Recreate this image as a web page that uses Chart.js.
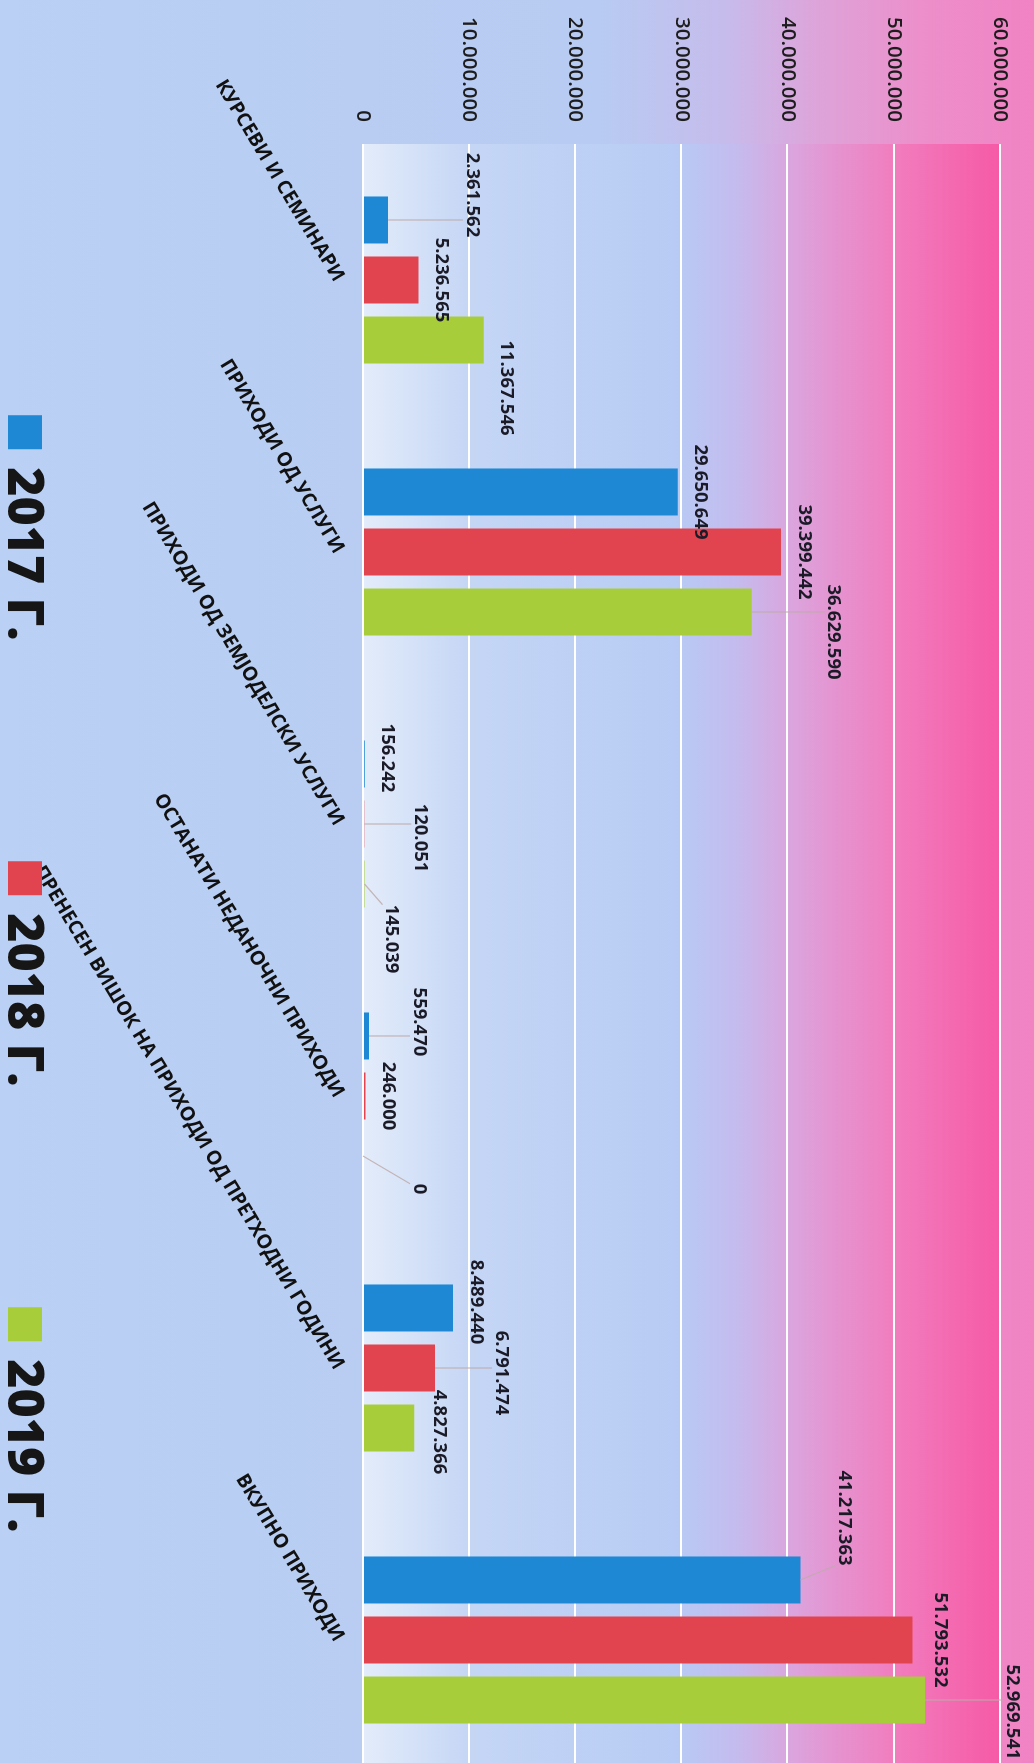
<!DOCTYPE html>
<html>
<head>
<meta charset="utf-8">
<title>Приходи 2017-2019</title>
<script src="https://cdn.jsdelivr.net/npm/chart.js@4.4.1/dist/chart.umd.min.js"></script>
<style>
  html, body { margin: 0; padding: 0; width: 1034px; height: 1763px; overflow: hidden; background: #bcd1f4; }
  /* the chart is drawn as a normal column chart and turned a quarter turn clockwise */
  #wrap { position: absolute; left: 0; top: 0; width: 1776px; height: 1034px;
          transform-origin: 0 0; transform: translateX(1034px) rotate(90deg); }
  canvas { display: block; }
</style>
</head>
<body>
<div id="wrap"><canvas id="chart" width="1776" height="1034"></canvas></div>
<script>
// categories
const categories = [
  'КУРСЕВИ И СЕМИНАРИ',
  'ПРИХОДИ ОД УСЛУГИ',
  'ПРИХОДИ ОД ЗЕМЈОДЕЛСКИ УСЛУГИ',
  'ОСТАНАТИ НЕДАНОЧНИ ПРИХОДИ',
  'ПРЕНЕСЕН ВИШОК НА ПРИХОДИ ОД ПРЕТХОДНИ ГОДИНИ',
  'ВКУПНО ПРИХОДИ'
];
const seriesLabels = ['2017 Г.', '2018 Г.', '2019 Г.'];

// values per year
const values2017 = [2361562, 29650649, 156242, 559470, 8489440, 41217363];
const values2018 = [5236565, 39399442, 120051, 246000, 6791474, 51793532];
const values2019 = [11367546, 36629590, 145039, 0, 4827366, 52969541];

// value axis
const axisMin = 0;
const axisMax = 60000000;
const axisStep = 10000000;

// hand-moved data labels (nudge in px from the default spot, like the excel callouts)
const nudge2017 = [[-25, -61], [0, 0], [-6, 0], [-14, -27], [-6, 0], [-62, -21]];
const nudge2018 = [[0, 0], [0, 0], [14, -33], [0, 0], [5, -43], [0, -5]];
const nudge2019 = [[48, 0], [20, -59], [55, -4], [33, -33], [4, -2], [12, -64]];

const colors = ['#1e88d4', '#e1444f', '#a8cd3b'];

// 1234567 -> 1.234.567
const fmt = v => String(v).replace(/\B(?=(\d{3})+(?!\d))/g, '.');

// background: blue on the left of the picture, pink on the right
const backgroundPlugin = {
  id: 'gradientBackground',
  beforeDraw(chart) {
    const ctx = chart.ctx;
    const ca = chart.chartArea;
    const h = chart.height;
    ctx.save();
    let g = ctx.createLinearGradient(0, h, 0, 0);
    g.addColorStop(0, '#bad0f4');
    g.addColorStop(0.58, '#b8cbf2');
    g.addColorStop(0.70, '#c6bcec');
    g.addColorStop(0.79, '#dda4da');
    g.addColorStop(0.89, '#ec8fca');
    g.addColorStop(1, '#f183c3');
    ctx.fillStyle = g;
    ctx.fillRect(0, 0, chart.width, h);

    g = ctx.createLinearGradient(0, ca.bottom, 0, ca.top);
    g.addColorStop(0, '#e3ecfa');
    g.addColorStop(0.166, '#c5d6f5');
    g.addColorStop(0.49, '#b7cbf4');
    g.addColorStop(0.585, '#c4bcee');
    g.addColorStop(0.68, '#dca3dc');
    g.addColorStop(0.834, '#f17dbe');
    g.addColorStop(1, '#f65aa6');
    ctx.fillStyle = g;
    ctx.fillRect(ca.left, ca.top, ca.right - ca.left, ca.bottom - ca.top);
    ctx.restore();
  }
};

// value labels with leader lines
const valueLabelPlugin = {
  id: 'valueLabels',
  afterDatasetsDraw(chart) {
    const ctx = chart.ctx;
    const nudges = [nudge2017, nudge2018, nudge2019];
    ctx.save();
    ctx.font = '700 18.5px "Open Sans"';
    ctx.textAlign = 'center';
    ctx.textBaseline = 'middle';
    chart.data.datasets.forEach((ds, di) => {
      chart.getDatasetMeta(di).data.forEach((bar, i) => {
        const [dx, dy] = nudges[di][i];
        const text = fmt(ds.data[i]);
        const x = bar.x + dx;
        const y = bar.y - 23 + dy;
        const w = ctx.measureText(text).width;
        if (Math.abs(dy) > 20 || Math.abs(dx) > 52) {
          const tx = Math.min(Math.max(bar.x, x - w / 2), x + w / 2);
          const ty = Math.min(Math.max(bar.y, y - 9), y + 9);
          ctx.strokeStyle = 'rgba(190,170,170,0.85)';
          ctx.lineWidth = 1.2;
          ctx.beginPath();
          ctx.moveTo(bar.x, bar.y);
          ctx.lineTo(tx, ty);
          ctx.stroke();
        }
        ctx.fillStyle = '#1b1b28';
        ctx.fillText(text, x, y);
      });
    });
    ctx.restore();
  }
};

// legend under the chart (left side of the turned picture)
const legendPlugin = {
  id: 'bottomLegend',
  afterDraw(chart) {
    const ctx = chart.ctx;
    const ca = chart.chartArea;
    const pitch = 446, box = 34, gap = 18;
    const base = chart.height - 8;
    ctx.save();
    ctx.font = '800 50px "Open Sans"';
    ctx.textBaseline = 'alphabetic';
    ctx.textAlign = 'left';
    const sets = chart.data.datasets;
    const lastW = ctx.measureText(sets[sets.length - 1].label).width;
    const total = (sets.length - 1) * pitch + box + gap + lastW;
    const start = (ca.left + ca.right) / 2 - total / 2 + 14;
    sets.forEach((ds, i) => {
      const x0 = start + i * pitch;
      ctx.fillStyle = ds.backgroundColor;
      ctx.fillRect(x0, base - box, box, box);
      ctx.fillStyle = '#161616';
      ctx.fillText(ds.label, x0 + box + gap, base);
    });
    ctx.restore();
  }
};

new Chart(document.getElementById('chart').getContext('2d'), {
  type: 'bar',
  data: {
    labels: categories,
    datasets: [values2017, values2018, values2019].map((vals, i) => ({
      label: seriesLabels[i],
      data: vals,
      backgroundColor: colors[i],
      borderWidth: 0,
      categoryPercentage: 0.662,
      barPercentage: 0.783
    }))
  },
  options: {
    responsive: false,
    animation: false,
    devicePixelRatio: 1,
    layout: { padding: { top: 27, left: 0, right: 0, bottom: 0 } },
    plugins: {
      legend: { display: false },
      tooltip: { enabled: false }
    },
    scales: {
      x: {
        grid: { display: false, drawTicks: false },
        border: { display: false },
        ticks: {
          autoSkip: false,
          minRotation: 31,
          maxRotation: 31,
          padding: 14,
          color: '#111111',
          font: { family: '"Open Sans"', weight: 'bold', size: 19.5 }
        },
        afterFit: s => { s.height = 363; }
      },
      y: {
        min: axisMin,
        max: axisMax,
        grid: { color: '#ffffff', lineWidth: 2, drawTicks: false },
        border: { display: false },
        ticks: {
          stepSize: axisStep,
          padding: 22,
          color: '#1d1d1d',
          font: { family: '"Open Sans"', weight: '600', size: 20.5 },
          callback: v => fmt(v)
        },
        afterFit: s => { s.width = 144; }
      }
    }
  },
  plugins: [backgroundPlugin, valueLabelPlugin, legendPlugin]
});
</script>
</body>
</html>
